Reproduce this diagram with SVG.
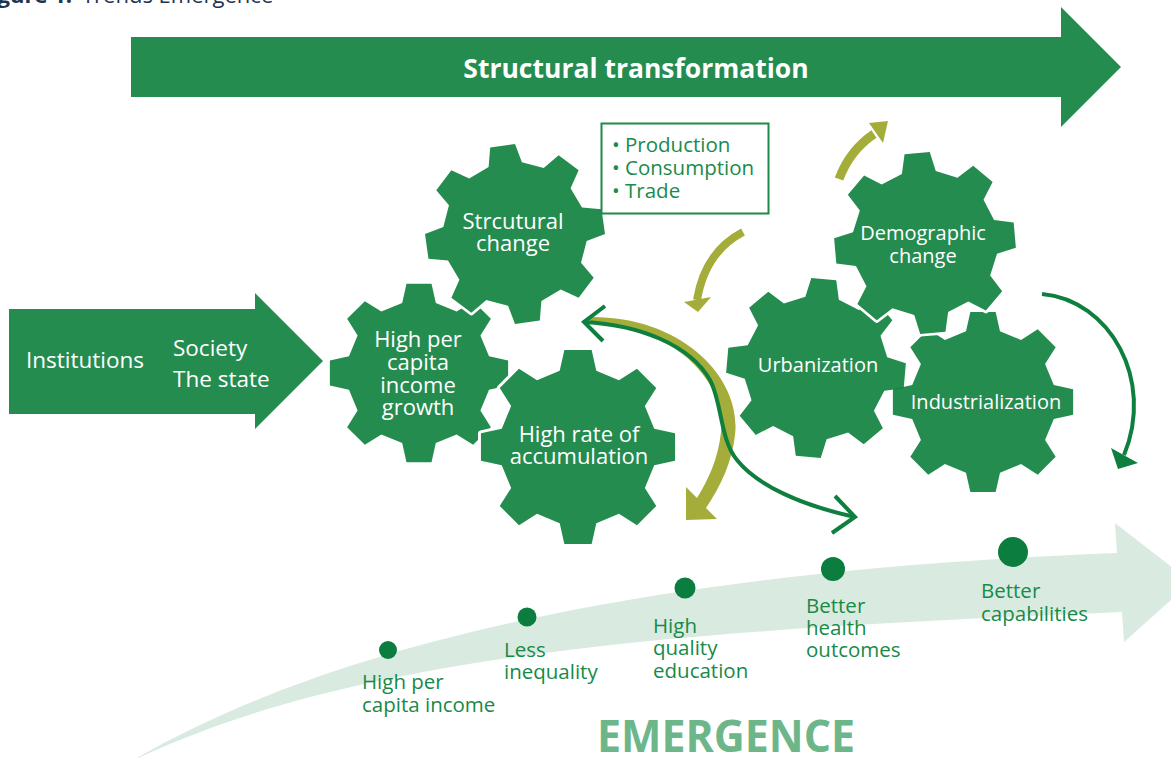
<svg xmlns="http://www.w3.org/2000/svg" width="1171" height="758" viewBox="0 0 1171 758">
  <style>
    text { font-family: "Open Sans", "Liberation Sans", sans-serif; }
    .gear { fill: #258c50; stroke: #ffffff; stroke-width: 6; stroke-linejoin: round; paint-order: stroke; }
    .gear-t { fill: #0d7f3d; fill-opacity: 0.9; }
    .big { fill: #258c50; }
    .gl { fill: #ffffff; font-size: 22px; text-anchor: middle; }
    .gs { fill: #ffffff; font-size: 20px; text-anchor: middle; }
    .lbl { fill: #178a48; font-size: 20.5px; }
    .dot { fill: #0b7d3e; }
    .olive { fill: none; stroke: #a4ad3a; }
    .olive-f { fill: #a4ad3a; }
    .dk { fill: none; stroke: #0f7f3f; stroke-width: 4; }
    .dk-f { fill: #0f7f3f; }
  </style>
  <defs>
    <!-- eight-tooth gear, tip radius 100, root radius 80 -->
    <path id="gearShape" d="M-18.67,-77.79 L-13.92,-99.03 L13.92,-99.03 L18.67,-77.79 L41.8,-68.21 L60.18,-79.86 L79.86,-60.18 L68.21,-41.8 L77.79,-18.67 L99.03,-13.92 L99.03,13.92 L77.79,18.67 L68.21,41.8 L79.86,60.18 L60.18,79.86 L41.8,68.21 L18.67,77.79 L13.92,99.03 L-13.92,99.03 L-18.67,77.79 L-41.8,68.21 L-60.18,79.86 L-79.86,60.18 L-68.21,41.8 L-77.79,18.67 L-99.03,13.92 L-99.03,-13.92 L-77.79,-18.67 L-68.21,-41.8 L-79.86,-60.18 L-60.18,-79.86 L-41.8,-68.21 Z"/>
  </defs>

  <!-- caption -->
  <text x="72" y="3" font-size="22" font-weight="bold" fill="#1d3453" text-anchor="end">Figure 1:</text>
  <text x="82" y="3" font-size="22" fill="#1d3453">Trends Emergence</text>

  <!-- emergence band -->
  <g id="emergence">
    <path fill="#d9ebe0" d="M130,762 C270,680 540,575 1117,553 L1115,523 L1191,582 L1124,642 L1122,612 C700,630 360,650 130,762 Z"/>
    <text x="597" y="752" font-size="44" font-weight="bold" fill="#6cb68a" textLength="258" lengthAdjust="spacingAndGlyphs">EMERGENCE</text>
  </g>

  <!-- top banner arrow -->
  <g id="structural-transformation">
    <polygon class="big" points="131,37 1061,37 1061,7 1121,67 1061,127 1061,97 131,97"/>
    <text x="636" y="78" font-size="26.5" font-weight="bold" fill="#ffffff" text-anchor="middle">Structural transformation</text>
  </g>

  <!-- left input arrow -->
  <g id="institutions">
    <polygon class="big" points="9,309 255,309 255,293 323,361 255,429 255,414 9,414"/>
    <text x="26" y="368" font-size="22.5" fill="#ffffff">Institutions</text>
    <text x="173" y="356" font-size="22.5" fill="#ffffff">Society</text>
    <text x="173" y="387" font-size="22.5" fill="#ffffff">The state</text>
  </g>

  <!-- left gear cluster -->
  <g id="gear-growth">
    <use href="#gearShape" class="gear" transform="translate(419,373) scale(0.9)"/>
    <text class="gl" x="418" y="347">High per</text>
    <text class="gl" x="418" y="370">capita</text>
    <text class="gl" x="418" y="393">income</text>
    <text class="gl" x="418" y="415">growth</text>
  </g>
  <g id="gear-structural">
    <use href="#gearShape" class="gear" transform="translate(515,234) rotate(-8) scale(0.9)"/>
    <text class="gl" x="513" y="229">Strcutural</text>
    <text class="gl" x="513" y="251">change</text>
  </g>
  <g id="gear-accumulation">
    <use href="#gearShape" class="gear" transform="translate(578,447) scale(0.98)"/>
    <text class="gl" x="579" y="442">High rate of</text>
    <text class="gl" x="579" y="464">accumulation</text>
  </g>

  <!-- right gear cluster -->
  <g id="gear-urbanization">
    <use href="#gearShape" class="gear" transform="translate(816,368) rotate(5) scale(0.9)"/>
    <text class="gs" x="818" y="372">Urbanization</text>
  </g>
  <g id="gear-industrialization">
    <use href="#gearShape" class="gear-t" transform="translate(983,402) scale(0.91)"/>
    <text class="gs" x="986" y="409">Industrialization</text>
  </g>
  <g id="gear-demographic">
    <use href="#gearShape" class="gear" transform="translate(925,243) rotate(-5) scale(0.91)"/>
    <text class="gs" x="923" y="240" font-size="21px">Demographic</text>
    <text class="gs" x="923" y="263" font-size="21px">change</text>
  </g>

  <!-- production box -->
  <g id="production-box">
    <rect x="601.5" y="123.5" width="167" height="90" fill="#ffffff" stroke="#1b8a4b" stroke-width="2"/>
    <text x="612" y="152" font-size="20.5" fill="#1b8a4b">• Production</text>
    <text x="612" y="175" font-size="20.5" fill="#1b8a4b">• Consumption</text>
    <text x="612" y="198" font-size="20.5" fill="#1b8a4b">• Trade</text>
  </g>

  <!-- connectors -->
  <g id="connectors">
    <!-- olive arrow leaving demographic change -->
    <path class="olive" stroke-width="9" d="M839,179 Q850,150 874,134"/>
    <polygon class="olive-f" points="869,123 888,121 883,143"/>
    <!-- olive arrow from the box -->
    <path class="olive" stroke-width="8" d="M743,232 Q705,252 697,300"/>
    <polygon class="olive-f" points="684,302 711,297 698,312"/>
    <!-- wide olive sweep -->
    <path class="olive-f" d="M590,317 C682,316 742,378 735,435 C732,463 720,487 706,508 L717,519 L686,520 L686,487 L697,498 C708,480 718,460 721,432 C727,385 678,326 590,323 Z"/>
    <!-- two-headed dark line -->
    <path class="dk" d="M584,322 C640,325 690,345 710,380 C722,402 720,440 737,460 C757,485 800,505 855,517"/>
    <polyline class="dk" points="605,306 584,322 603,341"/>
    <polyline class="dk" points="835,496 855,517 832,533"/>
    <!-- dark arrow on the right -->
    <path class="dk" stroke-width="5" d="M1042,294 C1110,300 1155,380 1124,455"/>
    <polygon class="dk-f" points="1111,448 1138,463 1118,469"/>
  </g>

  <!-- outcomes along the band -->
  <g id="outcome-income">
    <circle class="dot" cx="388" cy="650" r="9"/>
    <text class="lbl" x="362" y="689">High per</text>
    <text class="lbl" x="362" y="712">capita income</text>
  </g>
  <g id="outcome-inequality">
    <circle class="dot" cx="527" cy="617" r="9.5"/>
    <text class="lbl" x="504" y="657">Less</text>
    <text class="lbl" x="504" y="679">inequality</text>
  </g>
  <g id="outcome-education">
    <circle class="dot" cx="685" cy="588" r="10.5"/>
    <text class="lbl" x="653" y="633">High</text>
    <text class="lbl" x="653" y="655">quality</text>
    <text class="lbl" x="653" y="678">education</text>
  </g>
  <g id="outcome-health">
    <circle class="dot" cx="833" cy="569" r="12"/>
    <text class="lbl" x="806" y="613">Better</text>
    <text class="lbl" x="806" y="635">health</text>
    <text class="lbl" x="806" y="657">outcomes</text>
  </g>
  <g id="outcome-capabilities">
    <circle class="dot" cx="1013" cy="552" r="15"/>
    <text class="lbl" x="981" y="598">Better</text>
    <text class="lbl" x="981" y="621">capabilities</text>
  </g>
</svg>
